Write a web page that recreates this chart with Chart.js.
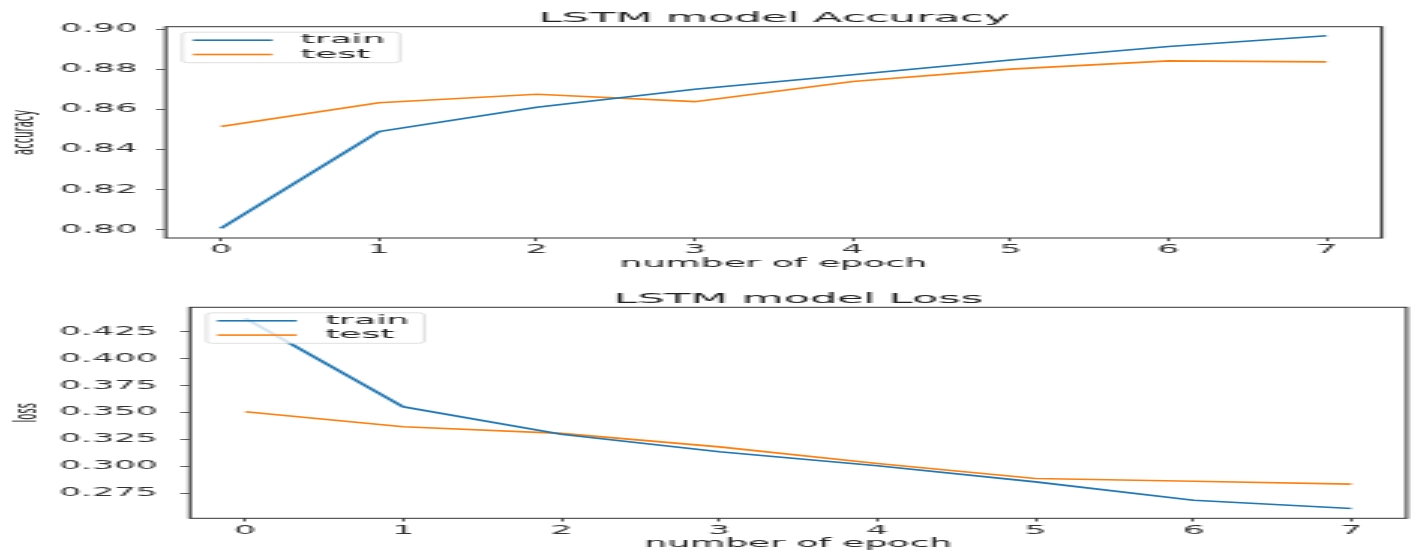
<!DOCTYPE html>
<html>
<head>
<meta charset="utf-8">
<script src="https://cdn.jsdelivr.net/npm/chart.js@4/dist/chart.umd.min.js"></script>
<style>
  html, body { margin: 0; padding: 0; background: #fff; overflow: hidden; }
  canvas { display: block; }
</style>
</head>
<body>
<canvas id="acc" width="472" height="278" style="width:1416px;height:278px"></canvas>
<canvas id="loss" width="472" height="278" style="width:1416px;height:278px"></canvas>
<script>
// ---- data ----
const epochs = [0, 1, 2, 3, 4, 5, 6, 7];
const epochTicks = [0, 1, 2, 3, 4, 5, 6, 7];
const seriesNames = ['train', 'test'];
const accTrain = [0.8007, 0.8489, 0.8610, 0.8700, 0.8772, 0.8846, 0.8913, 0.8966];
const accTest  = [0.8514, 0.8633, 0.8675, 0.8638, 0.8738, 0.8800, 0.8841, 0.8836];
const lossTrain = [0.4375, 0.3553, 0.3299, 0.3135, 0.3005, 0.2856, 0.2686, 0.2609];
const lossTest  = [0.3507, 0.3367, 0.3306, 0.3181, 0.3027, 0.2888, 0.2862, 0.2835];
const accTicks = [0.80, 0.82, 0.84, 0.86, 0.88, 0.90];
const lossTicks = [0.275, 0.300, 0.325, 0.350, 0.375, 0.400, 0.425];
const accTitle = 'LSTM model Accuracy';
const lossTitle = 'LSTM model Loss';
const xLabel = 'number of epoch';
const accLabel = 'accuracy';
const lossLabel = 'loss';

const FONT = '"DejaVu Sans", sans-serif';
const BLUE = '#1f77b4', ORANGE = '#ff7f0e';

const decor = {
  id: 'decor',
  afterDatasetsDraw(chart, args, o) {
    const ctx = chart.ctx, a = chart.chartArea;
    const cx = (a.left + a.right) / 2;
    ctx.save();
    // axes frame
    ctx.strokeStyle = '#333';
    ctx.lineWidth = 1;
    ctx.strokeRect(a.left, a.top, a.right - a.left, a.bottom - a.top);
    // title
    ctx.fillStyle = '#222';
    ctx.textAlign = 'center';
    ctx.textBaseline = 'alphabetic';
    ctx.font = '14.3px ' + FONT;
    ctx.fillText(o.title, cx, a.top - 4.4);
    // x label
    ctx.font = '12px ' + FONT;
    ctx.fillText(o.xlabel, cx, a.bottom + 29);
    // y label
    ctx.save();
    ctx.translate(o.ylabelX, (a.top + a.bottom) / 2);
    ctx.rotate(-Math.PI / 2);
    ctx.font = '10px ' + FONT;
    ctx.fillText(o.ylabel, 0, 0);
    ctx.restore();
    // legend
    const bx = a.left + 5.6, by = a.top + 5.5, bw = 72.5, bh = 30.5, r = 2;
    ctx.beginPath();
    ctx.moveTo(bx + r, by);
    ctx.lineTo(bx + bw - r, by); ctx.quadraticCurveTo(bx + bw, by, bx + bw, by + r);
    ctx.lineTo(bx + bw, by + bh - r); ctx.quadraticCurveTo(bx + bw, by + bh, bx + bw - r, by + bh);
    ctx.lineTo(bx + r, by + bh); ctx.quadraticCurveTo(bx, by + bh, bx, by + bh - r);
    ctx.lineTo(bx, by + r); ctx.quadraticCurveTo(bx, by, bx + r, by);
    ctx.closePath();
    ctx.fillStyle = 'rgba(255,255,255,0.8)';
    ctx.fill();
    ctx.strokeStyle = 'rgba(204,204,204,0.8)';
    ctx.lineWidth = 0.8;
    ctx.stroke();
    ctx.font = '12px ' + FONT;
    ctx.textAlign = 'left';
    ctx.textBaseline = 'middle';
    chart.data.datasets.forEach((ds, i) => {
      const y = by + 8 + i * 14.3;
      ctx.strokeStyle = ds.borderColor;
      ctx.lineWidth = ds.borderWidth;
      ctx.beginPath();
      ctx.moveTo(bx + 3.5, y);
      ctx.lineTo(bx + 30, y);
      ctx.stroke();
      ctx.fillStyle = '#222';
      ctx.fillText(ds.label, bx + 39.5, y);
    });
    ctx.restore();
  }
};

function makeChart(id, cfg) {
  const ds = [cfg.train, cfg.test].map((vals, i) => ({
    label: seriesNames[i],
    data: epochs.map((e, k) => ({ x: e, y: vals[k] })),
    borderColor: i === 0 ? BLUE : ORANGE,
    backgroundColor: i === 0 ? BLUE : ORANGE,
    borderWidth: 1.6,
    pointRadius: 0,
    tension: 0,
    fill: false
  }));
  return new Chart(document.getElementById(id), {
    type: 'line',
    data: { datasets: ds },
    plugins: [decor],
    options: {
      responsive: false,
      devicePixelRatio: 1,
      animation: false,
      events: [],
      layout: { padding: cfg.padding },
      plugins: {
        legend: { display: false },
        title: { display: false },
        tooltip: { enabled: false },
        decor: { title: cfg.title, xlabel: xLabel, ylabel: cfg.ylabel, ylabelX: cfg.ylabelX }
      },
      scales: {
        x: {
          type: 'linear',
          min: -0.35, max: 7.35,
          afterBuildTicks: s => { s.ticks = epochTicks.map(v => ({ value: v })); },
          afterFit: s => { s.height = 20; },
          ticks: { font: { family: FONT, size: 11.5 }, color: '#333', padding: cfg.xPad,
                   maxRotation: 0, autoSkip: false, callback: v => String(v) },
          grid: { display: true, drawOnChartArea: false, drawTicks: true, tickLength: 3.2,
                  tickColor: '#333', tickWidth: 0.8 },
          border: { display: false }
        },
        y: {
          type: 'linear',
          min: cfg.min, max: cfg.max,
          afterBuildTicks: s => { s.ticks = cfg.ticks.map(v => ({ value: v })); },
          afterFit: s => { s.width = cfg.yWidth; },
          ticks: { font: { family: FONT, size: 11.5 }, color: '#333', padding: cfg.yPad,
                   autoSkip: false, callback: v => v.toFixed(cfg.dec) },
          grid: { display: true, drawOnChartArea: false, drawTicks: true, tickLength: 3.2,
                  tickColor: '#333', tickWidth: 0.8 },
          border: { display: false }
        }
      }
    }
  });
}

makeChart('acc', {
  train: accTrain, test: accTest, ticks: accTicks, dec: 2,
  min: 0.79586, max: 0.90115,
  title: accTitle, ylabel: accLabel, ylabelX: 11,
  yWidth: 50,
  padding: { left: 5.2, right: 11.4, top: 26.7, bottom: 20 },
  xPad: 1.5, yPad: 6.3
});
makeChart('loss', {
  train: lossTrain, test: lossTest, ticks: lossTicks, dec: 3,
  min: 0.25179, max: 0.44766,
  title: lossTitle, ylabel: lossLabel, ylabelX: 12,
  yWidth: 58,
  padding: { left: 5.3, right: 3.1, top: 29.3, bottom: 17.7 },
  xPad: 2.4, yPad: 7.5
});
</script>
</body>
</html>
